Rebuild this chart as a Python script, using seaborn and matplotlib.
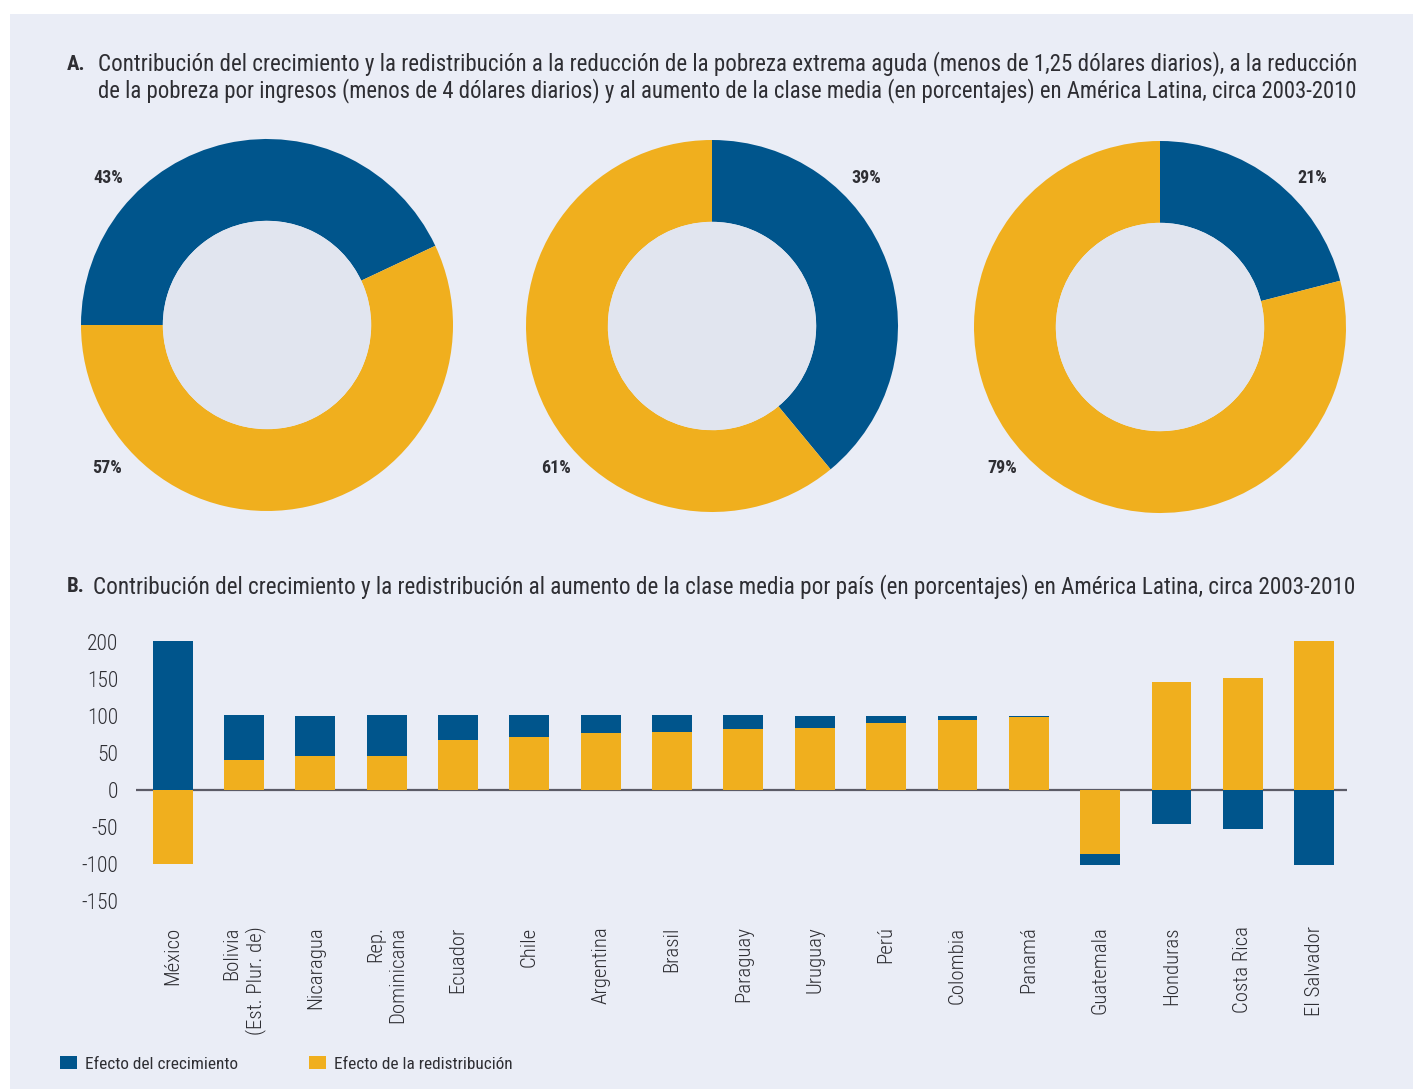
import numpy as np
import pandas as pd
import matplotlib
matplotlib.use("Agg")
import matplotlib.pyplot as plt
import seaborn as sns
from matplotlib import font_manager as fm
from matplotlib.patches import Rectangle, Patch, Circle

# ---------------- data ----------------
crecimiento_pct = [43, 39, 21]
redistribucion_pct = [57, 61, 79]

paises = ["México", "Bolivia\n(Est. Plur. de)", "Nicaragua", "Rep.\nDominicana", "Ecuador",
          "Chile", "Argentina", "Brasil", "Paraguay", "Uruguay", "Perú", "Colombia",
          "Panamá", "Guatemala", "Honduras", "Costa Rica", "El Salvador"]
efecto_crecimiento = [201, 61, 54, 55, 34, 30, 24, 23, 19, 16, 9.5, 5.5, 1.5, -15, -46, -53, -102]
efecto_redistribucion = [-100, 40, 46, 46, 67, 71, 77, 78, 82, 84, 90, 94, 98, -86, 146, 152, 201]
yticks = [-150, -100, -50, 0, 50, 100, 150, 200]

# ---------------- style ----------------
BLUE = "#00558c"
YELLOW = "#f0af1e"
BG = "#eaedf6"
HOLE = "#e1e5ef"
TXT = "#2e2e33"

sns.set_theme(style="white")
entries = fm.fontManager.ttflist
names = {f.name for f in entries}
FAM, STRETCH = "DejaVu Sans", "normal"
if "Roboto Condensed" in names:
    FAM = "Roboto Condensed"
elif "Liberation Sans Narrow" in names:
    FAM = "Liberation Sans Narrow"
elif any(f.name == "DejaVu Sans" and str(f.stretch) == "condensed" for f in entries):
    FAM, STRETCH = "DejaVu Sans", "condensed"
plt.rcParams["font.family"] = [FAM, "DejaVu Sans"]
plt.rcParams["font.stretch"] = STRETCH

W, H = 1413, 1089
fig = plt.figure(figsize=(W / 100, H / 100), dpi=100, facecolor="white")
fig.patches.append(Rectangle((10 / W, 0), 1 - 10 / W, 1 - 14 / H, transform=fig.transFigure,
                             facecolor=BG, edgecolor="none", zorder=-10))

def fx(px):
    return px / W

def fy(py):
    return 1 - py / H

# ---------------- donuts ----------------
centers = [(267, 325), (712, 326), (1160, 327)]
R = 186
starts = [180, 90, 90]
for (cx, cy), g, r, st in zip(centers, crecimiento_pct, redistribucion_pct, starts):
    ax = fig.add_axes([fx(cx - R), fy(cy + R), 2 * R / W, 2 * R / H])
    ax.pie([g, r], colors=[BLUE, YELLOW], startangle=st, counterclock=False,
           wedgeprops=dict(width=0.44, edgecolor="none"))
    ax.add_patch(Circle((0, 0), 0.56, facecolor=HOLE, edgecolor="none"))
    ax.set_xlim(-1, 1)
    ax.set_ylim(-1, 1)
    ax.set_aspect("equal")
    ax.axis("off")

pct_pos = [((108, 178), (107, 468)), ((866, 178), (556, 468)), ((1312, 178), (1002, 468))]
for (pg, pr), g, r in zip(pct_pos, crecimiento_pct, redistribucion_pct):
    fig.text(fx(pg[0]), fy(pg[1]), f"{g}%", ha="center", va="center", fontsize=13,
             fontweight="bold", color=TXT)
    fig.text(fx(pr[0]), fy(pr[1]), f"{r}%", ha="center", va="center", fontsize=13,
             fontweight="bold", color=TXT)

# ---------------- bars ----------------
df = pd.DataFrame({"pais": paises, "crec": efecto_crecimiento, "redis": efecto_redistribucion})
df["crec_ext"] = np.where(np.sign(df["crec"]) == np.sign(df["redis"]), df["crec"] + df["redis"], df["crec"])

axb = fig.add_axes([fx(136), fy(908.4), (1347 - 136) / W, (908.4 - 634.6) / H])
axb.set_facecolor("none")
sns.barplot(data=df, x="pais", y="crec_ext", order=paises, color=BLUE, saturation=1,
            width=0.56, ax=axb, zorder=3, edgecolor="none", linewidth=0)
sns.barplot(data=df, x="pais", y="redis", order=paises, color=YELLOW, saturation=1,
            width=0.56, ax=axb, zorder=4, edgecolor="none", linewidth=0)
axb.axhline(0, color="#5b5b66", lw=1.6, zorder=2)
axb.set_xlim(-0.515, 16.46)
axb.set_ylim(-160, 210)
axb.set_yticks(yticks)
axb.set_yticklabels([str(v) for v in yticks])
axb.set_xlabel("")
axb.set_ylabel("")
for s in axb.spines.values():
    s.set_visible(False)
axb.tick_params(axis="y", length=0, pad=13, labelsize=15.5, labelcolor=TXT)
axb.tick_params(axis="x", length=0, pad=13, labelsize=15, labelcolor=TXT, labelrotation=90)
for lab in axb.get_yticklabels():
    lab.set_fontweight("light")
for lab in axb.get_xticklabels():
    lab.set_multialignment("right")
    lab.set_va("top")
    lab.set_ha("center")
    lab.set_fontweight("light")

# ---------------- titles ----------------
renderer = fig.canvas.get_renderer()

def fit(t, target):
    w = t.get_window_extent(renderer).width
    t.set_fontsize(t.get_fontsize() * target / w)

fig.text(fx(67), fy(64), "A.", fontsize=15, fontweight="bold", color=TXT, va="center", ha="left")
l1 = fig.text(fx(98), fy(64), "Contribución del crecimiento y la redistribución a la reducción de la pobreza extrema aguda (menos de 1,25 dólares diarios), a la reducción",
              fontsize=15, color=TXT, va="center", ha="left")
fit(l1, 1357 - 98)
l2 = fig.text(fx(98), fy(91), "de la pobreza por ingresos (menos de 4 dólares diarios) y al aumento de la clase media (en porcentajes) en América Latina, circa 2003-2010",
              fontsize=15, color=TXT, va="center", ha="left")
fit(l2, 1357 - 98)
fig.text(fx(67), fy(587), "B.", fontsize=15, fontweight="bold", color=TXT, va="center", ha="left")
lb = fig.text(fx(93), fy(587), "Contribución del crecimiento y la redistribución al aumento de la clase media por país (en porcentajes) en América Latina, circa 2003-2010",
              fontsize=15, color=TXT, va="center", ha="left")
fit(lb, 1357 - 93)

# ---------------- legend ----------------
handles = [Patch(facecolor=BLUE, edgecolor="none", label="Efecto del crecimiento"),
           Patch(facecolor=YELLOW, edgecolor="none", label="Efecto de la redistribución")]
fig.legend(handles=handles, loc="center left", bbox_to_anchor=(fx(60), fy(1064)), ncol=2,
           frameon=False, fontsize=12.4, handlelength=1.0, handleheight=0.7, handletextpad=0.45,
           columnspacing=4.1, borderpad=0, borderaxespad=0, labelcolor=TXT)

fig.savefig("out.png", dpi=100, facecolor="white")
